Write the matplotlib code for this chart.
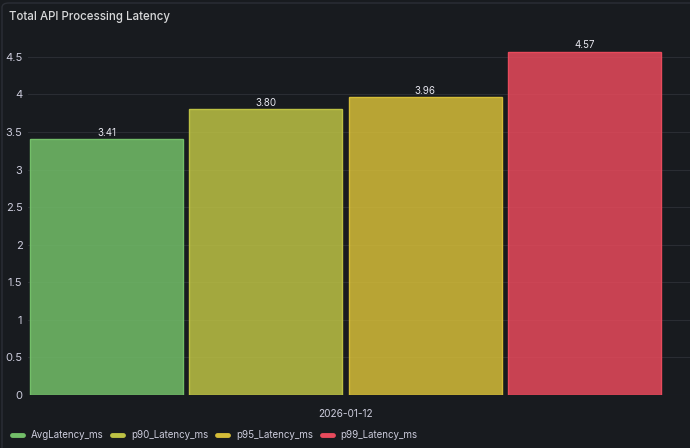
import numpy as np
import matplotlib
matplotlib.use("Agg")
import matplotlib.pyplot as plt
from matplotlib.lines import Line2D
from matplotlib.patches import FancyBboxPatch

# ── Data ────────────────────────────────────────────────────────────────────
SERIES   = ["AvgLatency_ms", "p90_Latency_ms", "p95_Latency_ms", "p99_Latency_ms"]
VALUES   = [3.41, 3.80, 3.96, 4.57]
DATE     = "2026-01-12"
Y_TICKS  = [0, 0.5, 1, 1.5, 2, 2.5, 3, 3.5, 4, 4.5]

# ── Style ───────────────────────────────────────────────────────────────────
plt.rcParams["font.family"] = ["Inter", "DejaVu Sans"]
BG       = "#181b1f"
TXT      = "#ccccdc"
GRID     = "#2a2d33"
COLORS   = ["#73bf69", "#bdc244", "#d5bd38", "#e84a5c"]

fig = plt.figure(figsize=(6.9, 4.48), dpi=100, facecolor=BG)

# panel border
fig.patches.append(FancyBboxPatch((2 / 690, -0.05), 1.2, 1.05 - 3 / 448,
                                  boxstyle="round,pad=0,rounding_size=0.01",
                                  transform=fig.transFigure, facecolor="none",
                                  edgecolor="#2c2f36", lw=1.0))

ax = fig.add_axes([28 / 690, (448 - 395) / 448, 1 - 28 / 690, (395 - 35) / 448])
ax.set_facecolor(BG)

x = np.arange(len(VALUES))
w = 0.96
for xi, v, c in zip(x, VALUES, COLORS):
    ax.bar(xi, v, width=w, color=c, alpha=0.85, edgecolor="none", zorder=2)
    ax.bar(xi, v, width=w, facecolor="none", edgecolor=c, lw=1.0, zorder=3)
    ax.text(xi, v + 0.015, f"{v:.2f}", ha="center", va="bottom",
            fontsize=7, color="#e6e6ee", zorder=4)

ax.set_xlim(-0.493, 3.663)
ax.set_ylim(0, 4.79)
ax.set_yticks(Y_TICKS)
ax.set_yticklabels([f"{t:g}" for t in Y_TICKS])
ax.set_xticks([1.5])
ax.set_xticklabels([DATE])
ax.tick_params(axis="y", length=0, pad=4, labelsize=8, labelcolor=TXT)
ax.tick_params(axis="x", length=0, pad=10, labelsize=7.3, labelcolor=TXT)
ax.grid(axis="y", color=GRID, lw=0.8, zorder=0)
for s in ax.spines.values():
    s.set_visible(False)

fig.text(9 / 690, 1 - 17 / 448, "Total API Processing Latency", ha="left",
         va="center", fontsize=8.3, color="#d8d9da", fontweight="medium")

handles = [Line2D([0], [0], color=c, lw=3.5, solid_capstyle="round")
           for c in COLORS]
fig.legend(handles, SERIES, loc="center left", bbox_to_anchor=(12 / 690, 1 - 435 / 448),
           ncol=4, frameon=False, borderpad=0, borderaxespad=0,
           handlelength=1.1, handletextpad=0.8, columnspacing=0.95,
           fontsize=7, labelcolor=TXT)

fig.savefig("out.png", dpi=100, facecolor=BG)
